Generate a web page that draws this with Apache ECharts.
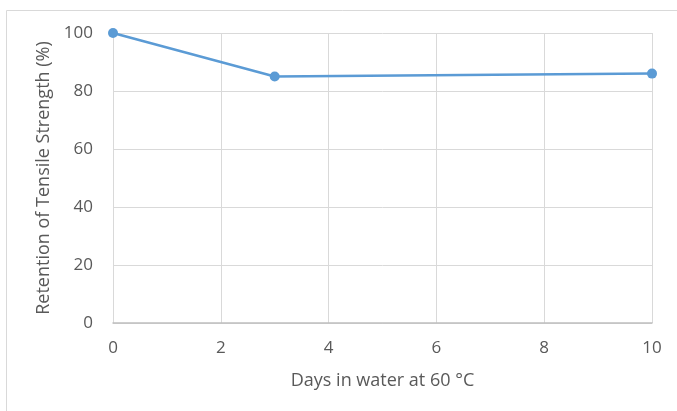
<!DOCTYPE html>
<html><head><meta charset="utf-8">
<script src="https://cdn.jsdelivr.net/npm/echarts@6/dist/echarts.min.js"></script>
<style>html,body{margin:0;padding:0;background:#fff}#c{width:677px;height:411px}</style>
</head><body><div id="c"></div>
<script>
const days = [0, 3, 10];
const retention = [100, 85, 86];
const xTitle = 'Days in water at 60 °C';
const yTitle = 'Retention of Tensile Strength (%)';
const font = 'Open Sans';
const chart = echarts.init(document.getElementById('c'));
chart.setOption({
  animation: false,
  graphic: [{type:'rect', shape:{x:6.5,y:10.5,width:700,height:420}, style:{fill:'none', stroke:'#d9d9d9', lineWidth:1}, z:-1}],
  grid: {left:113, right:25, top:33, bottom:88},
  xAxis: {type:'value', min:0, max:10, interval:2,
    name: xTitle, nameLocation:'middle', nameGap:49,
    nameTextStyle:{color:'#595959', fontSize:18, fontFamily:font},
    axisLine:{show:true, lineStyle:{color:'#bfbfbf', width:1.5}},
    axisTick:{show:false},
    axisLabel:{color:'#595959', fontSize:17, fontFamily:font, margin:17},
    splitLine:{show:true, lineStyle:{color:'#d9d9d9'}}},
  yAxis: {type:'value', min:0, max:100, interval:20,
    name: yTitle, nameLocation:'middle', nameGap:56,
    nameTextStyle:{color:'#595959', fontSize:18, fontFamily:font},
    axisLine:{show:true, lineStyle:{color:'#d9d9d9'}},
    axisTick:{show:false},
    axisLabel:{color:'#595959', fontSize:17, fontFamily:font, margin:20},
    splitLine:{show:true, lineStyle:{color:'#d9d9d9'}}},
  series: [{type:'line', data: days.map((d,i)=>[d, retention[i]]),
    symbol:'circle', symbolSize:10, showSymbol:true,
    lineStyle:{color:'#5b9bd5', width:2.5},
    itemStyle:{color:'#5b9bd5'}}]
});
</script></body></html>
